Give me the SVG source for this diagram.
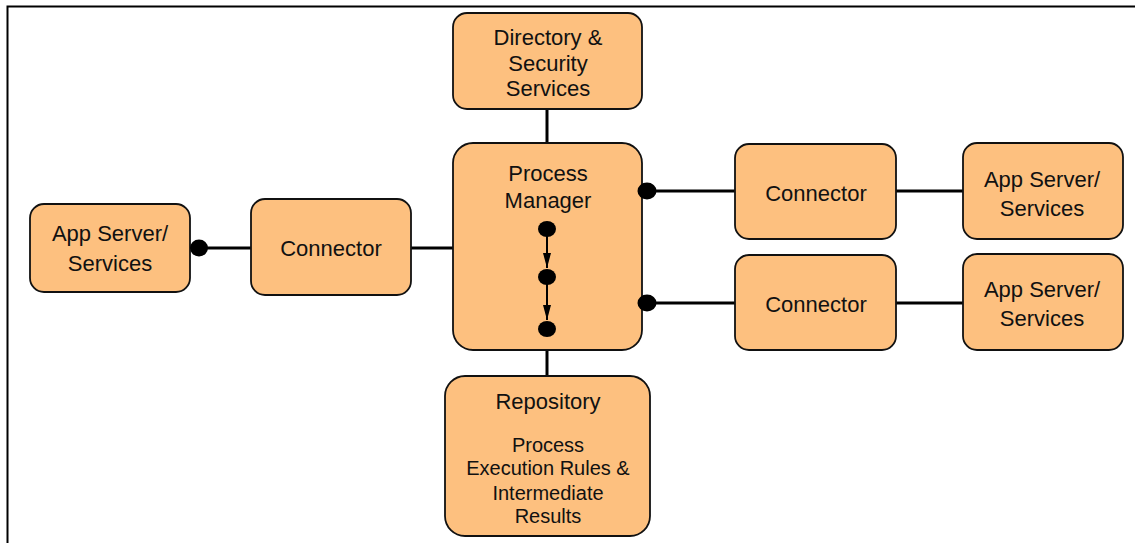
<svg xmlns="http://www.w3.org/2000/svg" width="1135" height="543" viewBox="0 0 1135 543">
<defs>
<style>
.box{fill:#FDC07F;stroke:#111;stroke-width:1.8}
.t{font-family:"Liberation Sans",Arial,sans-serif;font-size:22px;fill:#111;text-anchor:middle}
.s{font-size:20px}
.ln{stroke:#000;stroke-width:3;fill:none}
.thin{stroke:#000;stroke-width:2;fill:none}
.dot{fill:#000}
</style>
<marker id="ah" viewBox="0 0 15 8" refX="15" refY="4" markerWidth="15" markerHeight="8" markerUnits="userSpaceOnUse" orient="auto">
<path d="M0,0 L15,4 L0,8 Z" fill="#000"/>
</marker>
</defs>
<rect width="1135" height="543" fill="#fff"/>
<path d="M7.5,543 V6.5 H1135" stroke="#000" stroke-width="2" fill="none"/>
<g id="connectors">
<line class="ln" x1="547" y1="109" x2="547" y2="143"/>
<line class="ln" x1="547" y1="350" x2="547" y2="376"/>
<line class="ln" x1="199" y1="248" x2="251" y2="248"/>
<line class="ln" x1="411" y1="248" x2="453" y2="248"/>
<line class="ln" x1="647" y1="191" x2="735" y2="191"/>
<line class="ln" x1="647" y1="303" x2="735" y2="303"/>
<line class="ln" x1="896" y1="191" x2="963" y2="191"/>
<line class="ln" x1="896" y1="303" x2="963" y2="303"/>
</g>
<g id="directory">
<rect class="box" x="453" y="13" width="189" height="96" rx="14"/>
<text class="t" x="548" y="45">Directory &amp;</text>
<text class="t" x="548" y="70.5">Security</text>
<text class="t" x="548" y="96">Services</text>
</g>
<g id="process-manager">
<rect class="box" x="453" y="143" width="189" height="207" rx="20"/>
<text class="t" x="548" y="181">Process</text>
<text class="t" x="548" y="208">Manager</text>
<line class="thin" x1="547" y1="236" x2="547" y2="268" marker-end="url(#ah)"/>
<line class="thin" x1="547" y1="284" x2="547" y2="320" marker-end="url(#ah)"/>
<ellipse class="dot" cx="547" cy="229" rx="9" ry="8"/>
<ellipse class="dot" cx="547" cy="277" rx="9" ry="8"/>
<ellipse class="dot" cx="547" cy="329" rx="9" ry="8"/>
</g>
<g id="repository">
<rect class="box" x="445" y="376" width="205" height="160" rx="20"/>
<text class="t" x="548" y="409">Repository</text>
<text class="t s" x="548" y="452">Process</text>
<text class="t s" x="548" y="475">Execution Rules &amp;</text>
<text class="t s" x="548" y="500">Intermediate</text>
<text class="t s" x="548" y="523">Results</text>
</g>
<g id="app-left">
<rect class="box" x="30" y="204" width="160" height="88" rx="14"/>
<text class="t" x="110" y="240.5">App Server/</text>
<text class="t" x="110" y="270.5">Services</text>
</g>
<g id="connector-left">
<rect class="box" x="251" y="199" width="160" height="96" rx="14"/>
<text class="t" x="331" y="256">Connector</text>
</g>
<g id="connector-right-1">
<rect class="box" x="735" y="144" width="161" height="95" rx="14"/>
<text class="t" x="816" y="200.5">Connector</text>
</g>
<g id="connector-right-2">
<rect class="box" x="735" y="255" width="161" height="95" rx="14"/>
<text class="t" x="816" y="312">Connector</text>
</g>
<g id="app-right-1">
<rect class="box" x="963" y="143" width="160" height="96" rx="14"/>
<text class="t" x="1042" y="187">App Server/</text>
<text class="t" x="1042" y="215.5">Services</text>
</g>
<g id="app-right-2">
<rect class="box" x="963" y="254" width="160" height="96" rx="14"/>
<text class="t" x="1042" y="297">App Server/</text>
<text class="t" x="1042" y="326">Services</text>
</g>
<g id="ports">
<ellipse class="dot" cx="199" cy="248" rx="9" ry="8.5"/>
<ellipse class="dot" cx="647" cy="191" rx="9.5" ry="8.5"/>
<ellipse class="dot" cx="647" cy="303" rx="9.5" ry="8.5"/>
</g>
</svg>
